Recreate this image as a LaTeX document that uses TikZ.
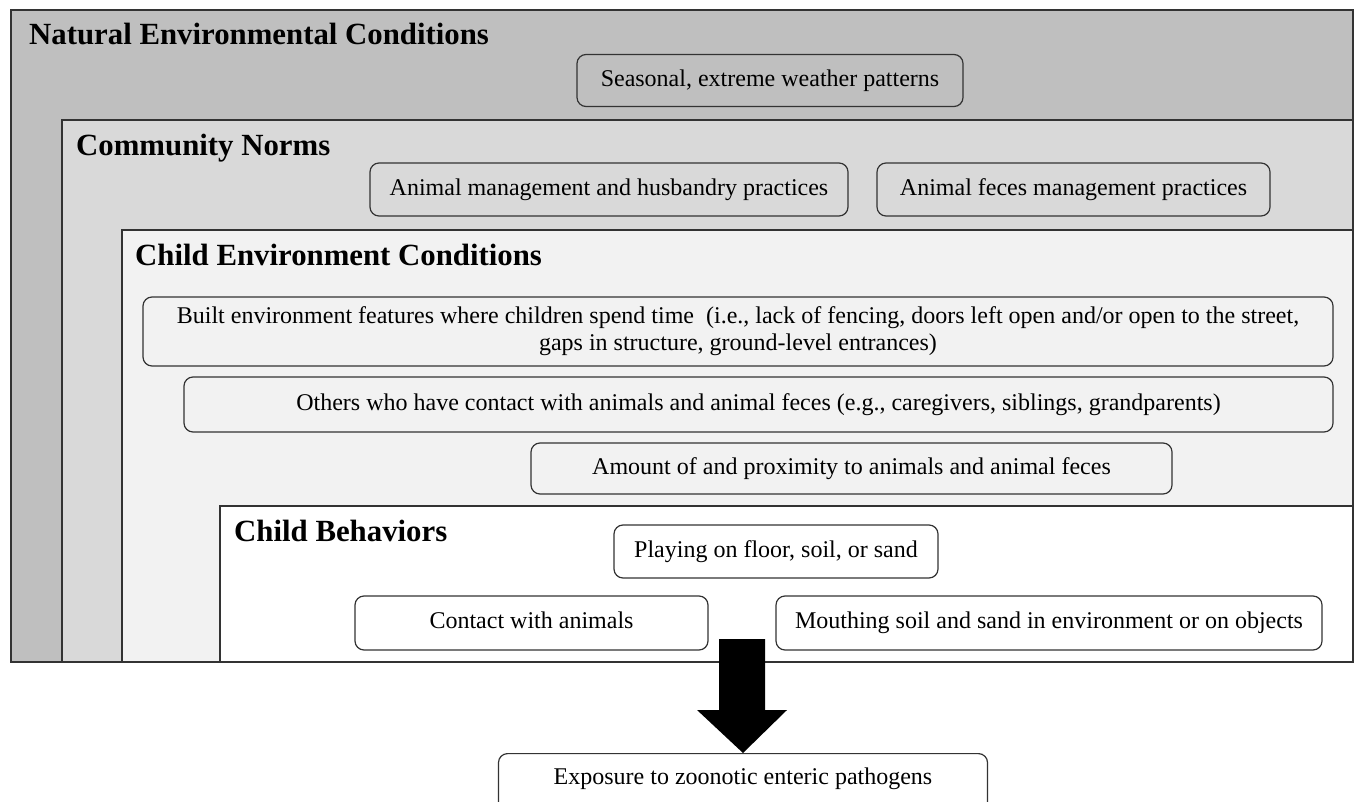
\documentclass[tikz,border=0pt]{standalone}
\usepackage{fontspec}
\setmainfont{Liberation Serif}
\usetikzlibrary{calc}
\definecolor{natgray}{HTML}{BFBFBF}
\definecolor{comgray}{HTML}{D9D9D9}
\definecolor{envgray}{HTML}{F2F2F2}
\tikzset{
  layer/.style={draw=black!80, line width=1.5pt},
  ttl/.style={anchor=base west, inner sep=0pt, font=\fontsize{30.8}{34}\selectfont\bfseries},
  rbox/.style={draw=black!80, line width=1.2pt, rounded corners=9pt, align=center,
    inner sep=0pt, font=\fontsize{24}{27}\selectfont},
  oneline/.style={text height=16.5pt, text depth=5pt},
  plain/.style={inner sep=0pt, font=\fontsize{24}{27}\selectfont, text height=16.5pt, text depth=5pt}
}
\begin{document}
\begin{tikzpicture}[x=1pt,y=-1pt]
\useasboundingbox (0,0) rectangle (1356,802);
\fill[white] (0,0) rectangle (1356,802);
% nested layers
\draw[layer, fill=natgray] (11,10) rectangle (1353,662);
\draw[layer, fill=comgray] (62,120) rectangle (1353,662);
\draw[layer, fill=envgray] (122,230) rectangle (1353,662);
\draw[layer, fill=white] (220,506) rectangle (1353,662);
% titles
\node[ttl] (tnat) at (29,44.5) {Natural Environmental Conditions};
\node[ttl] (tcom) at (76,156) {Community Norms};
\node[ttl] (tenv) at (135,265.5) {Child Environment Conditions};
\node[ttl] (tbeh) at (234,541) {Child Behaviors};
% boxes
\node[rbox, oneline, minimum width=386, minimum height=52] (seas) at (770,80.5) {Seasonal, extreme weather patterns};
\node[rbox, oneline, minimum width=478, minimum height=53] (husb) at (609,189.5) {Animal management and husbandry practices};
\node[rbox, oneline, minimum width=393, minimum height=53] (feces) at (1073.5,189.5) {Animal feces management practices};
\node[rbox, minimum width=1190, minimum height=69] (built) at (738,331.5) {Built environment features where children spend time \ (i.e., lack of fencing, doors left open and/or open to the street,\\ gaps in structure, ground-level entrances)};
\node[rbox, oneline, minimum width=1149, minimum height=55] (others) at (758.5,404.5) {Others who have contact with animals and animal feces (e.g., caregivers, siblings, grandparents)};
\node[rbox, oneline, minimum width=641, minimum height=51] (amount) at (851.5,468.5) {Amount of and proximity to animals and animal feces};
\node[rbox, oneline, minimum width=324, minimum height=53] (play) at (776,551.5) {Playing on floor, soil, or sand};
\node[rbox, oneline, minimum width=353, minimum height=54] (contact) at (531.5,623) {Contact with animals};
\node[rbox, oneline, minimum width=546, minimum height=54] (mouth) at (1049,623) {Mouthing soil and sand in environment or on objects};
% outcome
\node[rbox, anchor=north, minimum width=489, minimum height=90] (expo) at (743,753) {};
\node[plain] (expotext) at (743,779) {Exposure to zoonotic enteric pathogens};
% big arrow
\fill[black] ($(expo.north)+(-24,-114)$) -- ($(expo.north)+(22,-114)$) -- ($(expo.north)+(22,-43)$)
  -- ($(expo.north)+(44,-43)$) -- (expo.north) -- ($(expo.north)+(-46,-43)$)
  -- ($(expo.north)+(-24,-43)$) -- cycle;
\end{tikzpicture}
\end{document}
